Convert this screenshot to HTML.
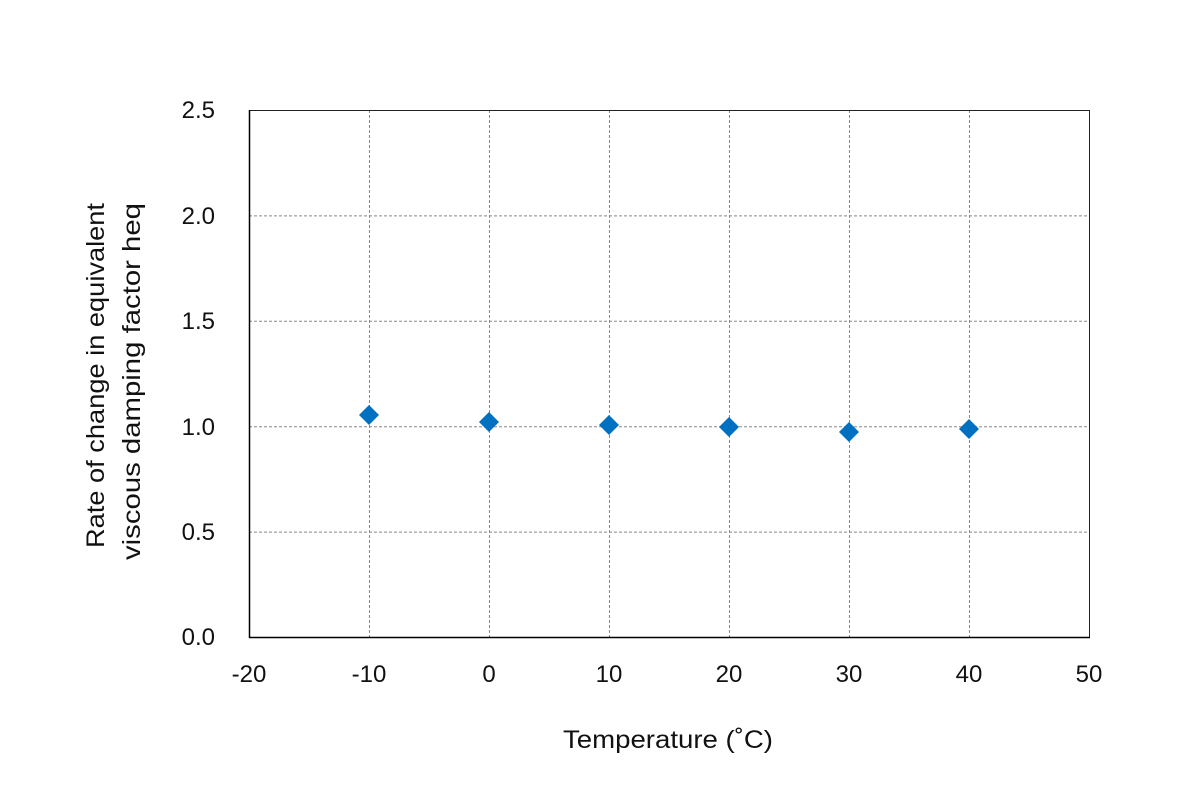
<!DOCTYPE html>
<html><head><meta charset="utf-8"><style>
html,body{margin:0;padding:0;background:#fff;}
svg{display:block;}
text{font-family:"Liberation Sans",sans-serif;fill:#111;}
</style></head><body>
<svg width="1200" height="800" viewBox="0 0 1200 800">
<g stroke="#888" stroke-width="1" stroke-dasharray="3,2">
<line x1="369.5" y1="110" x2="369.5" y2="637"/>
<line x1="489.5" y1="110" x2="489.5" y2="637"/>
<line x1="609.5" y1="110" x2="609.5" y2="637"/>
<line x1="729.5" y1="110" x2="729.5" y2="637"/>
<line x1="849.5" y1="110" x2="849.5" y2="637"/>
<line x1="969.5" y1="110" x2="969.5" y2="637"/>
<line x1="249" y1="215.9" x2="1089" y2="215.9"/>
<line x1="249" y1="321.3" x2="1089" y2="321.3"/>
<line x1="249" y1="426.7" x2="1089" y2="426.7"/>
<line x1="249" y1="532.1" x2="1089" y2="532.1"/>
</g>
<rect x="249.5" y="110.5" width="840" height="527" fill="none" stroke="#222" stroke-width="1"/>
<line x1="249.5" y1="110" x2="249.5" y2="638" stroke="#000" stroke-width="1.5"/>
<line x1="249" y1="637.5" x2="1090" y2="637.5" stroke="#000" stroke-width="1.5"/>
<g fill="#0070c0">
<polygon points="369,405 379,415 369,425 359,415"/>
<polygon points="489,412 499,422 489,432 479,422"/>
<polygon points="609,415 619,425 609,435 599,425"/>
<polygon points="729,417 739,427 729,437 719,427"/>
<polygon points="849,422 859,432 849,442 839,432"/>
<polygon points="969,419 979,429 969,439 959,429"/>
</g>
<g font-size="24" text-anchor="end">
<text x="215" y="118">2.5</text>
<text x="215" y="224">2.0</text>
<text x="215" y="329">1.5</text>
<text x="215" y="435">1.0</text>
<text x="215" y="540">0.5</text>
<text x="215" y="645">0.0</text>
</g>
<g font-size="24" text-anchor="middle">
<text x="249" y="682">-20</text>
<text x="369" y="682">-10</text>
<text x="489" y="682">0</text>
<text x="609" y="682">10</text>
<text x="729" y="682">20</text>
<text x="849" y="682">30</text>
<text x="969" y="682">40</text>
<text x="1089" y="682">50</text>
</g>
<text x="563" y="748" font-size="25" textLength="210" lengthAdjust="spacingAndGlyphs">Temperature (˚C)</text>
<g font-size="25" transform="translate(104,0) rotate(-90)">
<text x="-548" y="0" textLength="345" lengthAdjust="spacingAndGlyphs">Rate of change in equivalent</text>
<text x="-560" y="36" textLength="357" lengthAdjust="spacingAndGlyphs">viscous damping factor  heq</text>
</g>
</svg>
</body></html>
